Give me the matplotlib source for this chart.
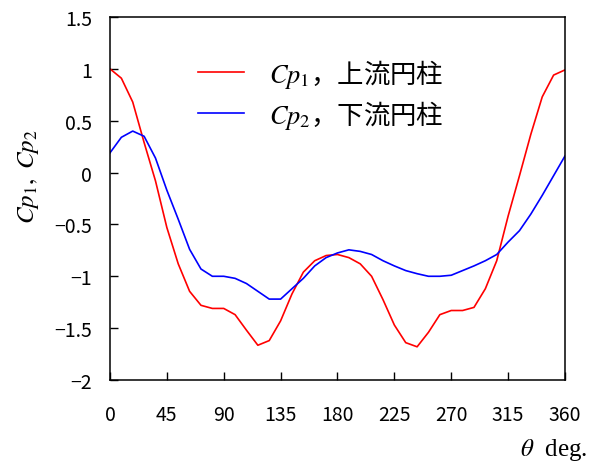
import matplotlib
matplotlib.use("Agg")
from matplotlib import pyplot as plt

# angle around cylinder, 9 deg steps
theta = list(range(0, 361, 9))

# upstream cylinder
cp1 = [1.00, 0.91, 0.68, 0.29, -0.08, -0.53, -0.88, -1.145, -1.28, -1.31,
       -1.31, -1.37, -1.52, -1.665, -1.62, -1.43, -1.17, -0.96, -0.85, -0.80,
       -0.79, -0.82, -0.88, -1.00, -1.225, -1.47, -1.64, -1.68, -1.54, -1.37,
       -1.33, -1.33, -1.30, -1.12, -0.85, -0.42, -0.03, 0.37, 0.73, 0.94, 0.99]

# downstream cylinder
cp2 = [0.19, 0.34, 0.40, 0.35, 0.14, -0.17, -0.45, -0.74, -0.93, -1.00,
       -1.00, -1.02, -1.07, -1.145, -1.22, -1.22, -1.12, -1.02, -0.90, -0.82,
       -0.775, -0.745, -0.76, -0.79, -0.85, -0.90, -0.945, -0.975, -1.00, -1.00,
       -0.99, -0.945, -0.90, -0.85, -0.79, -0.67, -0.56, -0.40, -0.22, -0.03, 0.16]

xticks = [0, 45, 90, 135, 180, 225, 270, 315, 360]
yticks = [-2, -1.5, -1, -0.5, 0, 0.5, 1, 1.5]

plt.rcParams["font.family"] = ["Noto Sans CJK JP", "DejaVu Sans"]
plt.rcParams["mathtext.fontset"] = "stix"
plt.rcParams["axes.unicode_minus"] = True

fig = plt.figure(figsize=(5.9, 4.64), dpi=100)
ax = fig.add_axes([0.1864, 0.1789, 0.7712, 0.7823])

ax.plot(theta, cp1, color="red", lw=1.2, label="$Cp_1$，上流円柱")
ax.plot(theta, cp2, color="blue", lw=1.2, label="$Cp_2$，下流円柱")

ax.set_xlim(0, 360)
ax.set_ylim(-2, 1.5)
ax.set_xticks(xticks)
ax.set_yticks(yticks)
ax.set_yticklabels([f"{v:g}".replace("-", "\u2212") for v in yticks])
ax.tick_params(axis="both", direction="in", length=6, width=1, labelsize=14,
               top=False, right=False)
ax.tick_params(axis="x", pad=17)
ax.tick_params(axis="y", pad=13)
for s in ax.spines.values():
    s.set_linewidth(1.1)

fig.text(0.048, 0.62, r"$Cp_1,\ Cp_2$", rotation=90, ha="center", va="center",
         fontsize=18)
fig.text(0.995, 0.018, r"$\theta$  deg.", ha="right", va="baseline",
         fontsize=18, family=["Liberation Serif", "DejaVu Serif"])

ax.legend(loc="upper left", bbox_to_anchor=(0.17, 0.92), frameon=False,
          fontsize=19, handlelength=1.75, handletextpad=0.95, labelspacing=0.3,
          borderaxespad=0)

fig.savefig("out.png", dpi=100)
